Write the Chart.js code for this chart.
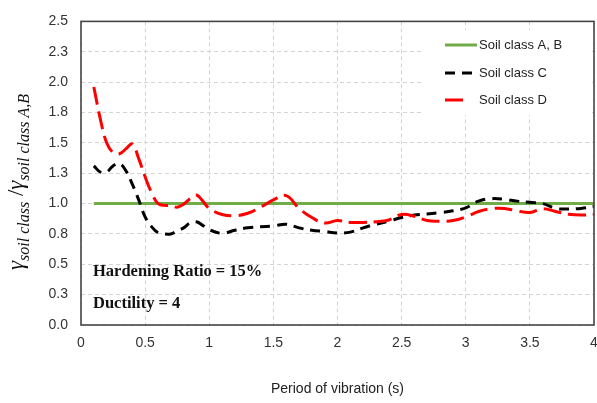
<!DOCTYPE html>
<html>
<head>
<meta charset="utf-8">
<script src="https://cdn.jsdelivr.net/npm/chart.js@4.4.1/dist/chart.umd.min.js"></script>
<style>
  html, body { margin: 0; padding: 0; background: #fff; }
  #wrap { width: 597px; height: 403px; position: relative; }
</style>
</head>
<body>
<div id="wrap"><canvas id="ratioChart"></canvas></div>
<script>
// periods (s): 0.05 s steps up to 1 s, then 0.1 s steps
const periods = [
  0.10, 0.15, 0.20, 0.25, 0.30, 0.35, 0.40, 0.45, 0.50, 0.55,
  0.60, 0.65, 0.70, 0.75, 0.80, 0.85, 0.90, 0.95, 1.00,
  1.1, 1.2, 1.3, 1.4, 1.5, 1.6, 1.7, 1.8, 1.9, 2.0,
  2.1, 2.2, 2.3, 2.4, 2.5, 2.6, 2.7, 2.8, 2.9, 3.0,
  3.1, 3.2, 3.3, 3.4, 3.5, 3.6, 3.7, 3.8, 3.9, 4.0,
];

const soilClassC = [
  1.31, 1.26, 1.26, 1.31, 1.33, 1.27, 1.16, 1.03, 0.89, 0.81,
  0.76, 0.75, 0.75, 0.775, 0.80, 0.84, 0.85, 0.82, 0.785,
  0.755, 0.78, 0.80, 0.81, 0.815, 0.83, 0.80, 0.78, 0.77, 0.758,
  0.765, 0.80, 0.83, 0.855, 0.885, 0.905, 0.915, 0.925, 0.94, 0.965,
  1.02, 1.04, 1.035, 1.02, 1.01, 1.0, 0.96, 0.955, 0.96, 0.975,
];

const soilClassD = [
  1.96, 1.70, 1.50, 1.42, 1.41, 1.45, 1.49, 1.37, 1.22, 1.09,
  1.00, 0.985, 0.985, 0.97, 0.995, 1.04, 1.07, 1.02, 0.96,
  0.91, 0.90, 0.92, 0.97, 1.03, 1.065, 0.96, 0.885, 0.84, 0.86,
  0.845, 0.845, 0.85, 0.865, 0.91, 0.895, 0.86, 0.855, 0.86, 0.89,
  0.935, 0.958, 0.96, 0.94, 0.927, 0.958, 0.935, 0.912, 0.905, 0.91,
];

// reference class (A, B) is flat at 1
const refPeriods = [0.1, 4.0];
const soilClassAB = [1.0, 1.0];

const xTickLabels = ['0', '0.5', '1', '1.5', '2', '2.5', '3', '3.5', '4'];
const yTickLabels = ['0.0', '0.3', '0.5', '0.8', '1.0', '1.3', '1.5', '1.8', '2.0', '2.3', '2.5'];

const notes = ['Hardening Ratio = 15%', 'Ductility = 4'];

const toPoints = (xs, ys) => xs.map((x, i) => ({ x, y: ys[i] }));

const tickFont = { family: '"Liberation Sans", Arial, sans-serif', size: 14 };

// frame, notes, legend and the rotated ratio title
const decorations = {
  id: 'decorations',
  afterDraw(chart) {
    const { ctx, chartArea: a } = chart;
    ctx.save();

    // plot frame
    ctx.strokeStyle = '#454545';
    ctx.lineWidth = 1.6;
    ctx.strokeRect(a.left, a.top, a.right - a.left, a.bottom - a.top);

    // notes
    ctx.fillStyle = '#111';
    ctx.font = 'bold 16.5px "Liberation Serif", "Times New Roman", serif';
    ctx.textBaseline = 'alphabetic';
    ctx.fillText(notes[0], 93, 276);
    ctx.fillText(notes[1], 93, 308);

    // legend
    ctx.fillStyle = '#fff';
    ctx.fillRect(423, 30, 167, 85);
    const rows = [45, 73, 100];
    const sampleLen = [32, 32, 22];
    chart.data.datasets.forEach((ds, i) => {
      ctx.beginPath();
      ctx.setLineDash(ds.borderDash || []);
      ctx.strokeStyle = ds.borderColor;
      ctx.lineWidth = ds.borderWidth;
      ctx.moveTo(445, rows[i]);
      ctx.lineTo(445 + sampleLen[i], rows[i]);
      ctx.stroke();
      ctx.setLineDash([]);
      ctx.fillStyle = '#222';
      ctx.font = '13px "Liberation Sans", Arial, sans-serif';
      ctx.textBaseline = 'middle';
      ctx.fillText(ds.label, 479, rows[i]);
    });

    // y title: gamma_soil class / gamma_soil class A,B
    const big = 'italic 23px "Liberation Serif", "Times New Roman", serif';
    const small = 'italic 16px "Liberation Serif", "Times New Roman", serif';
    const parts = [
      ['γ', big, 0],
      ['soil class', small, 6],
      [' /', '23px "Liberation Serif", serif', 0],
      ['γ', big, 0],
      ['soil class A,B', small, 6],
    ];
    let total = 0;
    parts.forEach(([t, f]) => { ctx.font = f; total += ctx.measureText(t).width; });
    ctx.translate(23, 182);
    ctx.rotate(-Math.PI / 2);
    ctx.fillStyle = '#111';
    ctx.textBaseline = 'alphabetic';
    let x = -total / 2;
    parts.forEach(([t, f, dy]) => {
      ctx.font = f;
      ctx.fillText(t, x, dy);
      x += ctx.measureText(t).width;
    });
    ctx.restore();
  },
};

new Chart(document.getElementById('ratioChart'), {
  type: 'line',
  data: {
    datasets: [
      {
        label: 'Soil class A, B',
        data: toPoints(refPeriods, soilClassAB),
        borderColor: '#70ad47',
        borderWidth: 3,
        order: 2,
      },
      {
        label: 'Soil class C',
        data: toPoints(periods, soilClassC),
        borderColor: '#000000',
        borderWidth: 3,
        borderDash: [10, 7],
        tension: 0.4,
        order: 1,
      },
      {
        label: 'Soil class D',
        data: toPoints(periods, soilClassD),
        borderColor: '#ff0000',
        borderWidth: 3,
        borderDash: [18, 7],
        tension: 0.4,
        order: 0,
      },
    ],
  },
  options: {
    responsive: true,
    maintainAspectRatio: false,
    animation: false,
    layout: { padding: { left: 0, right: 3, top: 15, bottom: 0 } },
    elements: { point: { radius: 0 } },
    plugins: { legend: { display: false }, tooltip: { enabled: false } },
    scales: {
      x: {
        type: 'linear',
        min: 0,
        max: 4,
        ticks: {
          stepSize: 0.5,
          color: '#333',
          font: tickFont,
          padding: 10,
          maxRotation: 0,
          callback: (v, i) => xTickLabels[i],
        },
        grid: { color: '#d4d4d4', lineWidth: 1, drawTicks: false },
        border: { display: false, dash: [4, 3] },
        title: {
          display: true,
          text: 'Period of vibration (s)',
          color: '#222',
          font: tickFont,
          padding: { top: 0, bottom: 5 },
        },
        afterFit: (scale) => {
          scale.height = 78;
          scale.paddingLeft = 0;
          scale.paddingRight = 0;
        },
      },
      y: {
        min: 0,
        max: 2.5,
        ticks: {
          stepSize: 0.25,
          color: '#333',
          font: tickFont,
          padding: 13,
          callback: (v, i) => yTickLabels[i],
        },
        grid: { color: '#d4d4d4', lineWidth: 1, drawTicks: false },
        border: { display: false, dash: [4, 3] },
        afterFit: (scale) => {
          scale.width = 81;
        },
      },
    },
  },
  plugins: [decorations],
});
</script>
</body>
</html>
